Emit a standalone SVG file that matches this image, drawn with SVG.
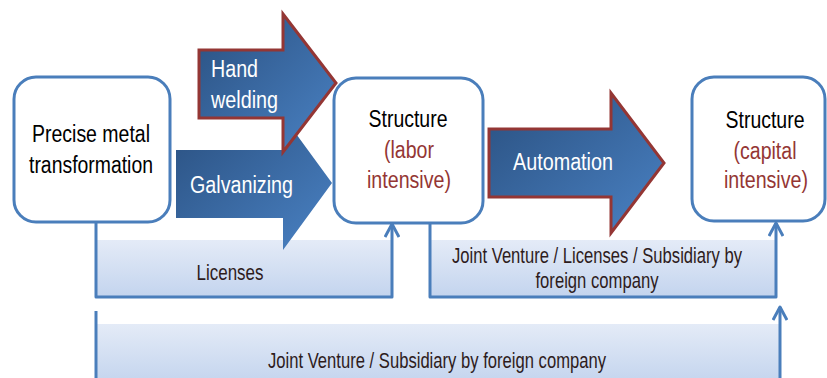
<svg xmlns="http://www.w3.org/2000/svg" width="827" height="378" viewBox="0 0 827 378">
<defs>
<linearGradient id="arrowGrad" x1="0" y1="0" x2="1" y2="1">
<stop offset="0" stop-color="#2a5080"/>
<stop offset="1" stop-color="#4a82c4"/>
</linearGradient>
<linearGradient id="bandGrad" x1="0" y1="0" x2="0" y2="1">
<stop offset="0" stop-color="#e4ebf7"/>
<stop offset="1" stop-color="#c3d4ee"/>
</linearGradient>
<marker id="chev" viewBox="0 0 16 16" refX="14" refY="8" markerWidth="16" markerHeight="16" markerUnits="userSpaceOnUse" orient="auto">
<path d="M1 1 L14 8 L1 15" fill="none" stroke="#4a7ebb" stroke-width="3" stroke-linejoin="round"/>
</marker>
</defs>
<style>
text{font-family:"Liberation Sans",Arial,sans-serif}
.box{fill:#fff;stroke:#4a7ebb;stroke-width:3}
.t{font-size:23.5px;fill:#000;text-anchor:middle}
.br{fill:#943634}
.arr{fill:url(#arrowGrad)}
.arrB{fill:url(#arrowGrad);stroke:#943634;stroke-width:3;stroke-linejoin:miter}
.at{fill:#fff;font-size:23px}
.band{fill:url(#bandGrad)}
.bt{font-size:21.5px;fill:#2e1c1c;text-anchor:middle}
.ln{fill:none;stroke:#4a7ebb;stroke-width:3;stroke-linejoin:round}
</style>
<rect width="827" height="378" fill="#fff"/>
<g id="connectors">
<rect class="band" x="96" y="240" width="296" height="57"/>
<rect class="band" x="430" y="240" width="346" height="57"/>
<rect class="band" x="96" y="324" width="684" height="60"/>
<path class="ln" d="M96 222 V297 H392 V224" marker-end="url(#chev)"/>
<path class="ln" d="M430 223 V297 H776 V223" marker-end="url(#chev)"/>
<path class="ln" d="M96 311 V380"/>
<path class="ln" d="M780 380 V307" marker-end="url(#chev)"/>
<text class="bt" x="230" y="280" font-size="22.5" textLength="67" lengthAdjust="spacingAndGlyphs">Licenses</text>
<text class="bt" x="597" y="263" textLength="290" lengthAdjust="spacingAndGlyphs">Joint Venture / Licenses / Subsidiary by</text>
<text class="bt" x="597" y="288" textLength="123" lengthAdjust="spacingAndGlyphs">foreign company</text>
<text class="bt" x="437" y="368" font-size="22" textLength="338" lengthAdjust="spacingAndGlyphs">Joint Venture / Subsidiary by foreign company</text>
</g>
<g id="precise-metal">
<rect class="box" x="14" y="77" width="156" height="145" rx="22"/>
<text class="t" x="91" y="142" textLength="118" lengthAdjust="spacingAndGlyphs">Precise metal</text>
<text class="t" x="91" y="173" textLength="124" lengthAdjust="spacingAndGlyphs">transformation</text>
</g>
<g id="structure-labor">
<rect class="box" x="334" y="78" width="149" height="145" rx="22"/>
<text class="t" x="408" y="127" textLength="79" lengthAdjust="spacingAndGlyphs">Structure</text>
<text class="t br" x="409" y="158" textLength="50" lengthAdjust="spacingAndGlyphs">(labor</text>
<text class="t br" x="409" y="188" textLength="84" lengthAdjust="spacingAndGlyphs">intensive)</text>
</g>
<g id="structure-capital">
<rect class="box" x="692" y="77" width="133" height="144" rx="22"/>
<text class="t" x="765" y="128" textLength="79" lengthAdjust="spacingAndGlyphs">Structure</text>
<text class="t br" x="765" y="159" textLength="63" lengthAdjust="spacingAndGlyphs">(capital</text>
<text class="t br" x="766" y="188" textLength="84" lengthAdjust="spacingAndGlyphs">intensive)</text>
</g>
<g id="galvanizing">
<path class="arr" d="M176 150 H283 V116 L332 183 L283 250 V218 H176 Z"/>
<text class="at" x="190" y="193" font-size="24" textLength="103" lengthAdjust="spacingAndGlyphs">Galvanizing</text>
</g>
<g id="hand-welding">
<path class="arrB" d="M199 50 H283 V14 L336 83 L283 152 V118 H199 Z"/>
<text class="at" x="211" y="77" font-size="21" textLength="47" lengthAdjust="spacingAndGlyphs">Hand</text>
<text class="at" x="211" y="108" font-size="21" textLength="67" lengthAdjust="spacingAndGlyphs">welding</text>
</g>
<g id="automation">
<path class="arrB" d="M489 129 H611 V93 L664 163 L611 233 V197 H489 Z"/>
<text class="at" x="513" y="170" font-size="24" textLength="100" lengthAdjust="spacingAndGlyphs">Automation</text>
</g>
</svg>
